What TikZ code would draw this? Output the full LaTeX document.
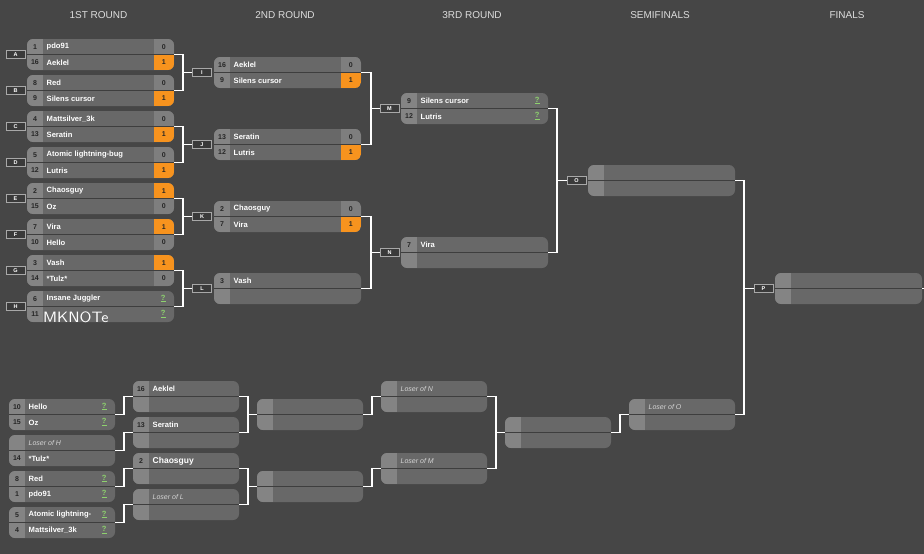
\documentclass[tikz,border=0pt]{standalone}
\usepackage{fontspec}
\setmainfont{Liberation Sans}
\usetikzlibrary{calc}
\definecolor{bg}{HTML}{464646}
\definecolor{bodyc}{HTML}{686868}
\definecolor{seedc}{HTML}{848484}
\definecolor{scgray}{HTML}{7E7E7E}
\definecolor{orng}{HTML}{F7931E}
\definecolor{divc}{HTML}{3E3E3E}
\definecolor{qgreen}{HTML}{8ED26E}
\definecolor{lblfill}{HTML}{3A3A3A}
\definecolor{lbldraw}{HTML}{A8A8A8}
\definecolor{hdrc}{HTML}{DCDCDC}
\definecolor{losc}{HTML}{D4D4D4}
\tikzset{
  matchbox/.style={draw=none, fill=bodyc, rounded corners=6pt, minimum height=31pt, inner sep=0pt, outer sep=0pt, anchor=north west},
  seedtxt/.style={font=\fontsize{7}{8}\selectfont\bfseries, text=black!85, inner sep=0pt},
  nametxt/.style={font=\fontsize{7.6}{9}\selectfont\bfseries, text=white, anchor=west, inner sep=0pt},
  lostxt/.style={font=\fontsize{7}{9}\selectfont\itshape, text=losc, anchor=west, inner sep=0pt},
  scoretxt/.style={font=\fontsize{7}{8}\selectfont\bfseries, text=black!85, inner sep=0pt},
  questxt/.style={font=\fontsize{7.5}{8}\selectfont\bfseries, text=qgreen, inner sep=0pt},
  lbl/.style={draw=lbldraw, fill=lblfill, line width=0.8pt, minimum width=19pt, minimum height=8pt, inner sep=0pt, text=white, font=\fontsize{5.5}{6}\selectfont\bfseries},
  hdr/.style={font=\fontsize{10}{12}\selectfont, text=hdrc},
  conn/.style={draw=white, line width=1.2pt},
  divline/.style={draw=divc, line width=0.9pt},
}
% match box: name, x, y, width
\newcommand{\MatchBox}[4]{%
  \node[matchbox, minimum width=#4pt] (#1) at (#2,#3) {};
  \begin{scope}
    \clip[rounded corners=6pt] (#1.north west) rectangle (#1.south east);
    \fill[seedc] (#1.north west) rectangle ($(#1.north west)+(16,31)$);
  \end{scope}
  \draw[divline] (#1.west) -- (#1.east);
}
% row: match, row (1/2), seed, text
\newcommand{\RowT}[4]{%
  \node[seedtxt] (#1-s#2) at ($(#1.north west)+(8,{(#2-1)*15.5+7.9})$) {#3};
  \node[nametxt] (#1-n#2) at ($(#1.north west)+(19.5,{(#2-1)*15.5+7.9})$) {#4};
}
\newcommand{\LosT}[3]{%
  \node[lostxt] (#1-n#2) at ($(#1.north west)+(19.5,{(#2-1)*15.5+7.9})$) {#3};
}
% score: match, row, fill colour, text
\newcommand{\ScoreC}[4]{%
  \begin{scope}
    \clip[rounded corners=6pt] (#1.north west) rectangle (#1.south east);
    \fill[#3] ($(#1.north east)+(-20.5,{(#2-1)*15.5})$) rectangle ($(#1.north east)+(0,{#2*15.5})$);
  \end{scope}
  \draw[divline] (#1.west) -- (#1.east);
  \node[scoretxt] (#1-c#2) at ($(#1.north east)+(-10.25,{(#2-1)*15.5+7.9})$) {#4};
}
\newcommand{\QuesC}[2]{%
  \node[questxt] (#1-c#2) at ($(#1.north east)+(-10.75,{(#2-1)*15.5+7.6})$) {\underline{?}};
}
\begin{document}
\begin{tikzpicture}[x=1pt, y=-1pt]
\fill[bg] (0,0) rectangle (924,554);
\useasboundingbox (0,0) rectangle (924,554);

% headers
\node[hdr] (h1) at (98.5,15) {1ST ROUND};
\node[hdr] (h2) at (285,15) {2ND ROUND};
\node[hdr] (h3) at (472,15) {3RD ROUND};
\node[hdr] (h4) at (660,15) {SEMIFINALS};
\node[hdr] (h5) at (847,15) {FINALS};

% ---------- round 1 ----------
\MatchBox{A}{27}{39}{147}
\RowT{A}{1}{1}{pdo91}\ScoreC{A}{1}{scgray}{0}
\RowT{A}{2}{16}{Aeklel}\ScoreC{A}{2}{orng}{1}
\MatchBox{B}{27}{75}{147}
\RowT{B}{1}{8}{Red}\ScoreC{B}{1}{scgray}{0}
\RowT{B}{2}{9}{Silens cursor}\ScoreC{B}{2}{orng}{1}
\MatchBox{C}{27}{111}{147}
\RowT{C}{1}{4}{Mattsilver\_3k}\ScoreC{C}{1}{scgray}{0}
\RowT{C}{2}{13}{Seratin}\ScoreC{C}{2}{orng}{1}
\MatchBox{D}{27}{147}{147}
\RowT{D}{1}{5}{Atomic lightning-bug}\ScoreC{D}{1}{scgray}{0}
\RowT{D}{2}{12}{Lutris}\ScoreC{D}{2}{orng}{1}
\MatchBox{E}{27}{183}{147}
\RowT{E}{1}{2}{Chaosguy}\ScoreC{E}{1}{orng}{1}
\RowT{E}{2}{15}{Oz}\ScoreC{E}{2}{scgray}{0}
\MatchBox{F}{27}{219}{147}
\RowT{F}{1}{7}{Vira}\ScoreC{F}{1}{orng}{1}
\RowT{F}{2}{10}{Hello}\ScoreC{F}{2}{scgray}{0}
\MatchBox{G}{27}{255}{147}
\RowT{G}{1}{3}{Vash}\ScoreC{G}{1}{orng}{1}
\RowT{G}{2}{14}{*Tulz*}\ScoreC{G}{2}{scgray}{0}
\MatchBox{H}{27}{291}{147}
\RowT{H}{1}{6}{Insane Juggler}\QuesC{H}{1}
\RowT{H}{2}{11}{}\QuesC{H}{2}
\node[font=\sffamily\fontsize{15}{15}\selectfont, text=white, anchor=west, inner sep=0pt, xscale=1.1] (scrib) at (43,317) {MKNOTe};

\foreach \m/\y in {A/54.5,B/90.5,C/126.5,D/162.5,E/198.5,F/234.5,G/270.5,H/306.5}
  \node[lbl] (l\m) at (15.5,\y) {\m};

% ---------- round 2 ----------
\MatchBox{I}{214}{57}{147}
\RowT{I}{1}{16}{Aeklel}\ScoreC{I}{1}{scgray}{0}
\RowT{I}{2}{9}{Silens cursor}\ScoreC{I}{2}{orng}{1}
\MatchBox{J}{214}{129}{147}
\RowT{J}{1}{13}{Seratin}\ScoreC{J}{1}{scgray}{0}
\RowT{J}{2}{12}{Lutris}\ScoreC{J}{2}{orng}{1}
\MatchBox{K}{214}{201}{147}
\RowT{K}{1}{2}{Chaosguy}\ScoreC{K}{1}{scgray}{0}
\RowT{K}{2}{7}{Vira}\ScoreC{K}{2}{orng}{1}
\MatchBox{L}{214}{273}{147}
\RowT{L}{1}{3}{Vash}

\foreach \m/\y in {I/72.5,J/144.5,K/216.5,L/288.5}
  \node[lbl] (l\m) at (202,\y) {\m};

% ---------- round 3 ----------
\MatchBox{M}{401}{93}{147}
\RowT{M}{1}{9}{Silens cursor}\QuesC{M}{1}
\RowT{M}{2}{12}{Lutris}\QuesC{M}{2}
\MatchBox{N}{401}{237}{147}
\RowT{N}{1}{7}{Vira}
\node[lbl] (lM) at (389.5,108.5) {M};
\node[lbl] (lN) at (389.5,252.5) {N};

% ---------- semifinal / final ----------
\MatchBox{O}{588}{165}{147}
\node[lbl] (lO) at (576.5,180.5) {O};
\MatchBox{P}{775}{273}{147}
\node[lbl] (lP) at (763.5,288.5) {P};
\coordinate (pout) at (926,288.5);
\draw[conn] (P.east) -- (pout);

% ---------- winners connectors ----------
\foreach \a/\b/\t in {A/B/I,C/D/J,E/F/K,G/H/L}{
  \draw[conn] (\a.east) -- ++(9,0) |- (\b.east);
  \draw[conn] (l\t.west) -- ++(-9,0);
}
\foreach \a/\b/\t in {I/J/M,K/L/N}{
  \draw[conn] (\a.east) -- ++(10,0) |- (\b.east);
  \draw[conn] (l\t.west) -- ++(-9,0);
}
\draw[conn] (M.east) -- ++(9,0) |- (N.east);
\draw[conn] (lO.west) -- ++(-10,0);

% ---------- losers bracket ----------
\MatchBox{La}{9}{399}{106}
\RowT{La}{1}{10}{Hello}\QuesC{La}{1}
\RowT{La}{2}{15}{Oz}\QuesC{La}{2}
\MatchBox{Lb}{9}{435}{106}
\LosT{Lb}{1}{Loser of H}
\RowT{Lb}{2}{14}{*Tulz*}
\MatchBox{Lc}{9}{471}{106}
\RowT{Lc}{1}{8}{Red}\QuesC{Lc}{1}
\RowT{Lc}{2}{1}{pdo91}\QuesC{Lc}{2}
\MatchBox{Ld}{9}{507}{106}
\RowT{Ld}{1}{5}{Atomic lightning-}\QuesC{Ld}{1}
\RowT{Ld}{2}{4}{Mattsilver\_3k}\QuesC{Ld}{2}

\MatchBox{Ma}{133}{381}{106}
\RowT{Ma}{1}{16}{Aeklel}
\MatchBox{Mb}{133}{417}{106}
\RowT{Mb}{1}{13}{Seratin}
\MatchBox{Mc}{133}{453}{106}
\RowT{Mc}{1}{2}{\fontsize{8.5}{9}\selectfont Chaosguy}
\MatchBox{Md}{133}{489}{106}
\LosT{Md}{1}{Loser of L}

\MatchBox{Na}{257}{399}{106}
\MatchBox{Nb}{257}{471}{106}

\MatchBox{Qa}{381}{381}{106}
\LosT{Qa}{1}{Loser of N}
\MatchBox{Qb}{381}{453}{106}
\LosT{Qb}{1}{Loser of M}

\MatchBox{Ra}{505}{417}{106}
\MatchBox{Sa}{629}{399}{106}
\LosT{Sa}{1}{Loser of O}

\foreach \a/\b in {La/Ma,Lb/Mb,Lc/Mc,Ld/Md,Na/Qa,Nb/Qb,Ra/Sa}
  \draw[conn] (\a.east) -- ++(9,0) |- (\b.west);
\draw[conn] (Ma.east) -- ++(9,0) |- (Mb.east);
\draw[conn] (Na.west) -- ++(-9,0);
\draw[conn] (Mc.east) -- ++(9,0) |- (Md.east);
\draw[conn] (Nb.west) -- ++(-9,0);
\draw[conn] (Qa.east) -- ++(9,0) |- (Qb.east);
\draw[conn] (Ra.west) -- ++(-9,0);
\draw[conn] (Sa.east) -- ++(9,0) |- (O.east);
\draw[conn] (lP.west) -- ++(-9,0);
\end{tikzpicture}
\end{document}
